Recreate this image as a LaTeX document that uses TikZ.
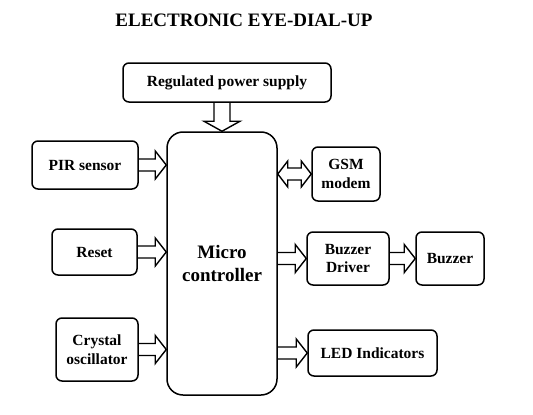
\documentclass[tikz,border=0pt]{standalone}
\usepackage{fontspec}
\setmainfont{Liberation Serif}
\usetikzlibrary{calc}
\tikzset{
  box/.style={draw, line width=1.5pt, rounded corners=6pt, align=center,
    font=\bfseries\fontsize{15.5}{19}\selectfont, inner sep=0pt, anchor=center},
  harrow/.style={draw, line width=1.4pt, line join=miter},
}
\newcommand\rarrow[2]{\draw[harrow] let \p1=(#1), \p2=(#2) in
  (\x1,\y1+6pt) -- (\x2-11pt,\y1+6pt) -- (\x2-11pt,\y1+14pt) -- (\x2,\y1)
  -- (\x2-11pt,\y1-14pt) -- (\x2-11pt,\y1-6pt) -- (\x1,\y1-6pt);}
\begin{document}
\begin{tikzpicture}[x=1pt,y=-1pt]
\useasboundingbox (0,0) rectangle (533,415);
\node[font=\bfseries\fontsize{19}{22}\selectfont] (title) at (244,20) {ELECTRONIC EYE-DIAL-UP};
\node[box, minimum width=208pt, minimum height=39pt] (rps) at (227,82.5) {Regulated power supply};
\node[box, rounded corners=16pt, minimum width=110pt, minimum height=263pt,
  font=\bfseries\fontsize{19}{22.5}\selectfont] (mc) at (222,263.5) {Micro\\controller};
\node[box, minimum width=106pt, minimum height=48pt] (pir) at (85,165) {PIR sensor};
\node[box, minimum width=85pt, minimum height=46pt] (reset) at (94.5,252) {Reset};
\node[box, minimum width=82pt, minimum height=63pt] (crystal) at (97,349.5) {Crystal\\oscillator};
\node[box, minimum width=68pt, minimum height=54pt] (gsm) at (346,174) {GSM\\modem};
\node[box, minimum width=82pt, minimum height=53pt, font=\bfseries\fontsize{15.5}{18}\selectfont] (bd) at (348,258.5) {Buzzer\\Driver};
\node[box, minimum width=68pt, minimum height=53pt] (buzzer) at (450,258.5) {Buzzer};
\node[box, minimum width=129pt, minimum height=46pt] (led) at (372.5,353) {LED Indicators};
% power arrow
\draw[harrow] let \p1=(rps.south -| mc.north), \p2=(mc.north) in
  (\x1+8pt,\y1) -- (\x1+8pt,\y2+10pt) -- (\x1+18pt,\y2+10pt) -- (\x2,\y2)
  -- (\x1-18pt,\y2+10pt) -- (\x1-8pt,\y2+10pt) -- (\x1-8pt,\y1);
% inputs
\rarrow{pir.east}{mc.west |- pir.east}
\rarrow{reset.east}{mc.west |- reset.east}
\rarrow{crystal.east}{mc.west |- crystal.east}
% outputs
\rarrow{mc.east |- bd.west}{bd.west}
\rarrow{bd.east}{buzzer.west}
\rarrow{mc.east |- led.west}{led.west}
% GSM bidirectional
\draw[harrow] let \p1=(mc.east |- gsm.west), \p2=(gsm.west) in
  (\x1,\y1) -- (\x1+10pt,\y1+13pt) -- (\x1+10pt,\y1+6pt) -- (\x2-10pt,\y1+6pt)
  -- (\x2-10pt,\y1+13pt) -- (\x2,\y1) -- (\x2-10pt,\y1-13pt) -- (\x2-10pt,\y1-6pt)
  -- (\x1+10pt,\y1-6pt) -- (\x1+10pt,\y1-13pt) -- cycle;
\end{tikzpicture}
\end{document}
